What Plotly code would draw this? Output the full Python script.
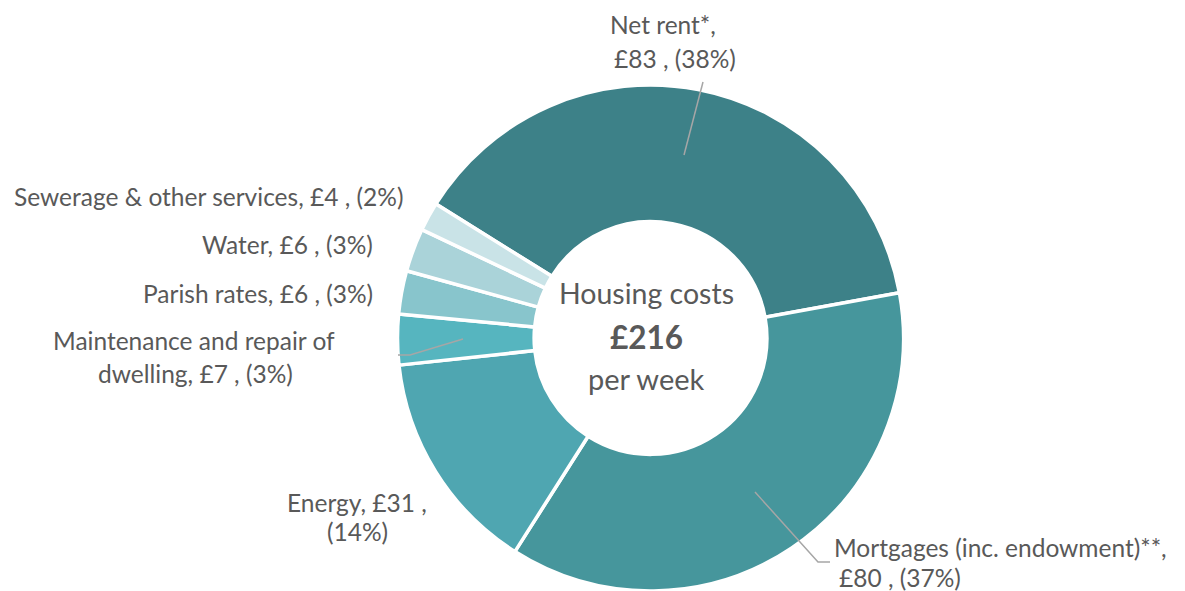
"""
Housing costs donut chart
"""

import plotly.graph_objects as go

# Dados
categories = [
    'Net rent*',
    'Mortgages (inc. endowment)**',
    'Energy',
    'Maintenance and repair of dwelling',
    'Parish rates',
    'Water',
    'Sewerage & other services',
]
values = [83, 80, 31, 7, 6, 6, 4]
percent_labels = ['38%', '37%', '14%', '3%', '3%', '3%', '2%']
colors = ['#3D8188', '#46969C', '#4FA6B1', '#56B5BF', '#88C5CC', '#AAD3D9', '#C9E3E7']
total_label = '£216'

W, H = 1185, 591
FONT = 'Lato, Open Sans, sans-serif'
TXT = '#595959'


def px(x):
    return x / W


def py(y):
    return 1 - y / H


fig = go.Figure(go.Pie(
    labels=categories,
    values=values,
    hole=0.46,
    sort=False,
    direction='clockwise',
    rotation=-58,
    textinfo='none',
    marker=dict(colors=colors, line=dict(color='white', width=3.5)),
    domain=dict(x=[px(396), px(905)], y=[0, py(85)]),
    hovertemplate='%{label}: £%{value}<extra></extra>',
))

# Rótulos externos (posição em pixels da imagem)
labels = [
    (f'{categories[0]},', 663, 25, 'center'),
    (f'£{values[0]} , ({percent_labels[0]})', 675, 58, 'center'),
    (f'{categories[1]},', 832, 547, 'left'),
    (f'£{values[1]} , ({percent_labels[1]})', 837, 577, 'left'),
    (f'{categories[2]}, £{values[2]} ,', 357, 502, 'center'),
    (f'({percent_labels[2]})', 357, 531, 'center'),
    ('Maintenance and repair of', 194, 340, 'center'),
    (f'dwelling, £{values[3]} , ({percent_labels[3]})', 195, 373, 'center'),
    (f'{categories[4]}, £{values[4]} , ({percent_labels[4]})', 375, 293, 'right'),
    (f'{categories[5]}, £{values[5]} , ({percent_labels[5]})', 375, 245, 'right'),
    (f'{categories[6]}, £{values[6]} , ({percent_labels[6]})', 405, 197, 'right'),
]
for text, x, y, anchor in labels:
    fig.add_annotation(
        x=px(x), y=py(y), xref='paper', yref='paper',
        text=text, showarrow=False, xanchor=anchor, yanchor='middle',
        font=dict(family=FONT, size=24.5, color=TXT),
    )

# Texto central
center = [
    ('Housing costs', 293, 28.5, False),
    (total_label, 337, 31.5, True),
    ('per week', 378, 29, False),
]
for text, y, size, bold in center:
    fig.add_annotation(
        x=px(646), y=py(y), xref='paper', yref='paper',
        text=f'<b>{text}</b>' if bold else text, showarrow=False,
        xanchor='center', yanchor='middle',
        font=dict(family=FONT, size=size, color=TXT),
    )

# Linhas de chamada
leaders = [
    [(684, 155), (703, 82)],
    [(755, 492), (818, 562), (830, 562)],
    [(463, 339), (410, 355), (398, 355)],
]
for pts in leaders:
    path = 'M ' + ' L '.join(f'{px(x)} {py(y)}' for x, y in pts)
    fig.add_shape(type='path', path=path, xref='paper', yref='paper',
                  line=dict(color='#A6A6A6', width=1.5))

fig.update_layout(
    width=W, height=H,
    margin=dict(l=0, r=0, t=0, b=0),
    showlegend=False,
    paper_bgcolor='white',
    plot_bgcolor='white',
)

# Remover a margem padrão da página
fig.write_html('out.html', config={'displayModeBar': False},
               post_script="document.body.style.margin='0';")
